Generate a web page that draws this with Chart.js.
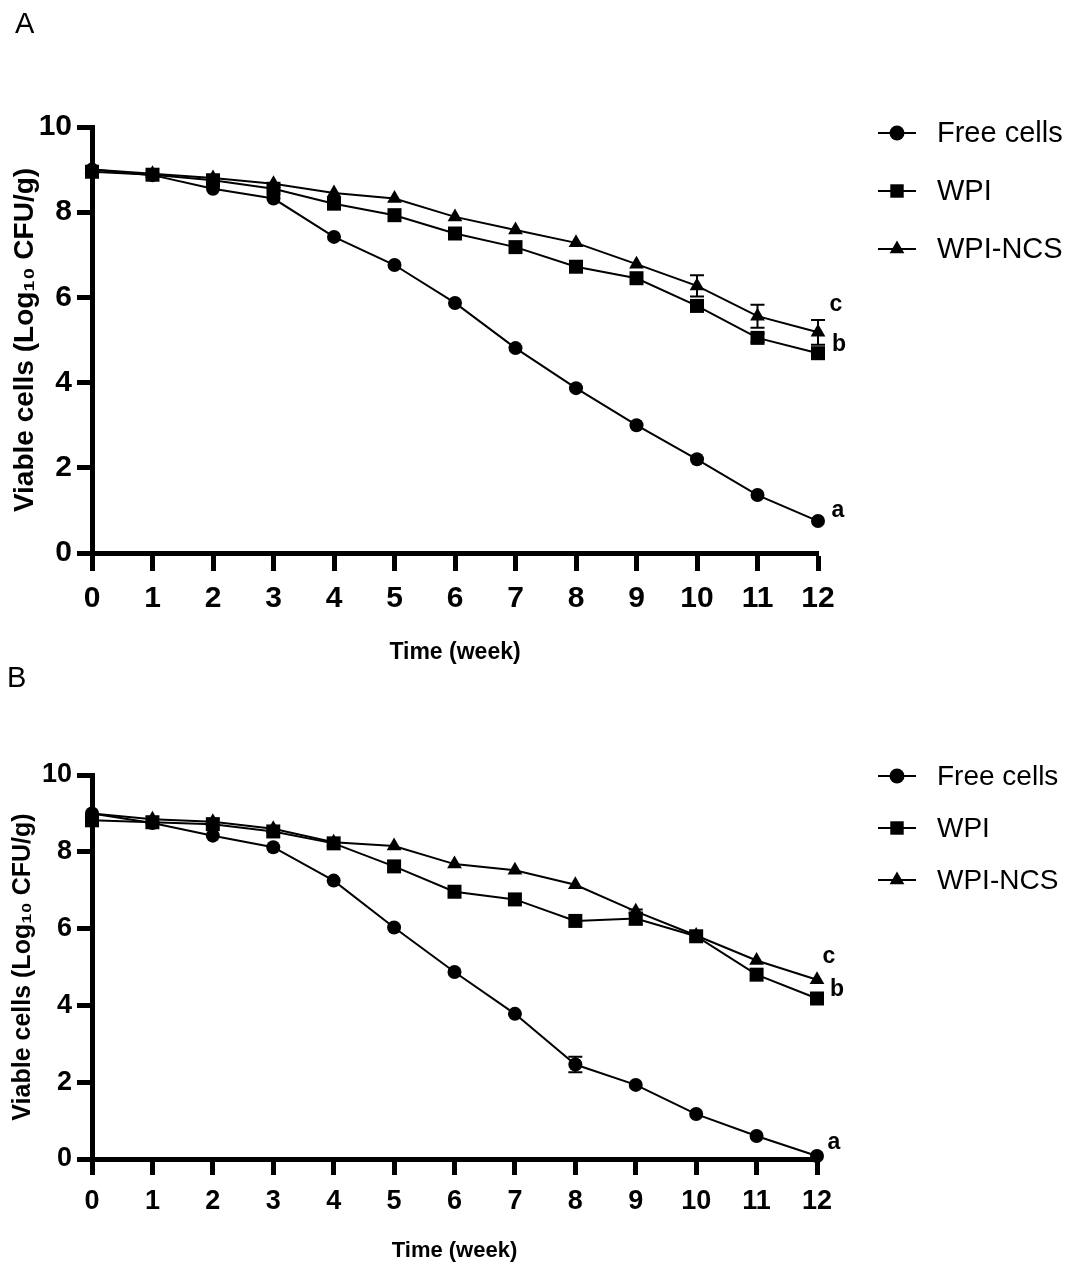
<!DOCTYPE html>
<html><head><meta charset="utf-8">
<script src="https://cdn.jsdelivr.net/npm/chart.js@4.4.1/dist/chart.umd.min.js"></script>
<style>
html,body{margin:0;padding:0;background:#fff;}
#wrap{position:relative;width:1073px;height:1264px;overflow:hidden;background:#fff;}
canvas{position:absolute;left:0;}
.panel{position:absolute;font-family:'Liberation Sans',Arial,sans-serif;font-size:29px;color:#000;line-height:1;z-index:2;}
</style></head><body>
<div id="wrap">
<canvas id="cA" width="1073" height="680" style="top:0"></canvas>
<canvas id="cB" width="1073" height="584" style="top:680px"></canvas>
<div class="panel" style="left:15px;top:9px">A</div>
<div class="panel" style="left:7px;top:663px">B</div>
</div>
<script>
// ---- data ----
const weeks = [0,1,2,3,4,5,6,7,8,9,10,11,12];
const seriesNames = ['Free cells','WPI','WPI-NCS'];
const xTitle = 'Time (week)';
const yTitle = 'Viable cells (Log\u2081\u2080 CFU/g)';
const yTicks = [0,2,4,6,8,10];
const letters = ['a','b','c'];

// Panel A
const freeA = [9.0, 8.87, 8.55, 8.32, 7.42, 6.76, 5.87, 4.81, 3.87, 3.0, 2.2, 1.36, 0.75];
const wpiA  = [8.95, 8.88, 8.75, 8.55, 8.2, 7.93, 7.5, 7.18, 6.72, 6.45, 5.8, 5.05, 4.69];
const ncsA  = [9.0, 8.9, 8.8, 8.67, 8.45, 8.32, 7.89, 7.58, 7.28, 6.78, 6.27, 5.56, 5.18];
const freeErrA = [0,0,0,0,0,0,0,0,0,0,0,0,0];
const wpiErrA  = [0,0,0,0,0,0,0,0,0,0,0.08,0.1,0.1];
const ncsErrA  = [0,0,0,0,0,0,0,0,0,0,0.25,0.27,0.29];
const letterValA = [1.0, 4.88, 5.82];

// Panel B
const freeB = [9.0, 8.75, 8.42, 8.12, 7.25, 6.03, 4.87, 3.78, 2.46, 1.93, 1.17, 0.6, 0.08];
const wpiB  = [8.82, 8.77, 8.72, 8.53, 8.22, 7.62, 6.96, 6.76, 6.2, 6.26, 5.8, 4.8, 4.18];
const ncsB  = [9.0, 8.85, 8.78, 8.6, 8.25, 8.15, 7.68, 7.52, 7.14, 6.45, 5.82, 5.17, 4.67];
const freeErrB = [0,0,0,0,0,0,0,0,0.2,0,0,0,0];
const wpiErrB  = [0,0,0,0,0,0,0,0,0,0.15,0,0,0];
const ncsErrB  = [0,0,0,0,0,0,0,0,0,0.05,0,0,0];
const letterValB = [0.42, 4.41, 5.27];

// ---- drawing ----
const SANS = "'Liberation Sans', Arial, 'DejaVu Sans', sans-serif";
const NARROW = "'Liberation Sans Narrow', 'Arial Narrow', 'Liberation Sans', Arial, sans-serif";
const styles = ['circle','rect','triangle'];
const radii = [7, 9.9, 8.5];

function pts(vals){ return weeks.map((w,i)=>({x:w, y:vals[i]})); }

function makeChart(id, o){
  const sets = [o.free, o.wpi, o.ncs];
  const errs = [o.freeErr, o.wpiErr, o.ncsErr];
  const extras = {
    id:'extras',
    afterDatasetsDraw(chart){
      const ctx = chart.ctx, xs = chart.scales.x, ys = chart.scales.y;
      ctx.save();
      // error bars
      ctx.strokeStyle = '#000'; ctx.lineWidth = 2;
      errs.forEach((arr, s)=>{
        arr.forEach((e,i)=>{
          if(!e) return;
          const x = xs.getPixelForValue(weeks[i]);
          const y1 = ys.getPixelForValue(sets[s][i]+e), y2 = ys.getPixelForValue(sets[s][i]-e);
          ctx.beginPath();
          ctx.moveTo(x,y1); ctx.lineTo(x,y2);
          ctx.moveTo(x-7,y1); ctx.lineTo(x+7,y1);
          ctx.moveTo(x-7,y2); ctx.lineTo(x+7,y2);
          ctx.stroke();
        });
      });
      // significance letters
      ctx.fillStyle = '#000';
      ctx.font = 'bold ' + o.letterSize + 'px ' + SANS;
      ctx.textAlign = 'center'; ctx.textBaseline = 'middle';
      letters.forEach((L,k)=>{
        ctx.fillText(L, xs.getPixelForValue(weeks[weeks.length-1]) + o.letterDx[k], ys.getPixelForValue(o.letterVal[k]));
      });
      // legend
      ctx.font = o.legendSize + 'px ' + SANS;
      ctx.textAlign = 'left';
      seriesNames.forEach((name,k)=>{
        const y = o.legendY[k];
        ctx.strokeStyle = '#000'; ctx.lineWidth = 2;
        ctx.beginPath(); ctx.moveTo(878,y); ctx.lineTo(916,y); ctx.stroke();
        ctx.fillStyle = '#000';
        Chart.helpers.drawPoint(ctx, {pointStyle: styles[k], radius: k===0?7.5:(k===1?9.5:8.5), rotation:0, borderWidth:0}, 897, y);
        ctx.fillStyle = '#000';
        ctx.fillText(name, 937, y + 1);
      });
      ctx.restore();
    }
  };
  return new Chart(document.getElementById(id), {
    type:'line',
    data:{ datasets: sets.map((vals,k)=>({
      label: seriesNames[k], data: pts(vals),
      borderColor:'#000', backgroundColor:'#000', borderWidth:2,
      pointStyle: styles[k], pointRadius: radii[k], pointHoverRadius: radii[k],
      pointBorderWidth:0, pointBackgroundColor:'#000', tension:0, clip:false, fill:false
    }))},
    options:{
      responsive:false, animation:false, events:[],
      layout:{padding:{left:8, top:o.top, right:o.right, bottom:0}},
      plugins:{legend:{display:false}, tooltip:{enabled:false}},
      scales:{
        x:{ type:'linear', min:0, max:12,
          afterFit(s){ s.height = o.xHeight; },
          afterBuildTicks(s){ s.ticks = weeks.map(v=>({value:v})); },
          ticks:{ autoSkip:false, maxRotation:0, color:'#000', padding:o.xPad,
            font:{family:NARROW, size:o.tickSize, weight:'bold'} },
          grid:{ display:true, drawOnChartArea:false, drawTicks:true, tickLength:o.xTick, tickWidth:5, tickColor:'#000' },
          border:{ display:true, width:5, color:'#000' },
          title:{ display:true, text:xTitle, color:'#000', font:{family:SANS, size:o.xTitleSize, weight:'bold'}, padding:{top:0, bottom:o.xTitlePad} }
        },
        y:{ min:0, max:10,
          afterFit(s){ s.width = 84; },
          afterBuildTicks(s){ s.ticks = yTicks.map(v=>({value:v})); },
          ticks:{ color:'#000', padding:5, font:{family:NARROW, size:o.tickSize, weight:'bold'} },
          grid:{ display:true, drawOnChartArea:false, drawTicks:true, tickLength:15, tickWidth:5, tickColor:'#000' },
          border:{ display:true, width:5, color:'#000' },
          title:{ display:true, text:yTitle, color:'#000', font:{family:SANS, size:o.yTitleSize, weight:'bold'}, padding:{top:0, bottom:0} }
        }
      }
    },
    plugins:[extras]
  });
}

makeChart('cA', {
  free:freeA, wpi:wpiA, ncs:ncsA, freeErr:freeErrA, wpiErr:wpiErrA, ncsErr:ncsErrA,
  letterVal:letterValA, letterDx:[20,21,18], letterSize:23,
  legendY:[133,191,249], legendSize:29,
  top:127, right:255, xHeight:127, xPad:10, xTick:18, tickSize:30, xTitleSize:23, xTitlePad:14, yTitleSize:28
});
makeChart('cB', {
  free:freeB, wpi:wpiB, ncs:ncsB, freeErr:freeErrB, wpiErr:wpiErrB, ncsErr:ncsErrB,
  letterVal:letterValB, letterDx:[17,20,12], letterSize:23,
  legendY:[96,148,200], legendSize:28,
  top:95, right:256, xHeight:105, xPad:10, xTick:16, tickSize:27, xTitleSize:22, xTitlePad:0, yTitleSize:25
});
</script>
</body></html>
